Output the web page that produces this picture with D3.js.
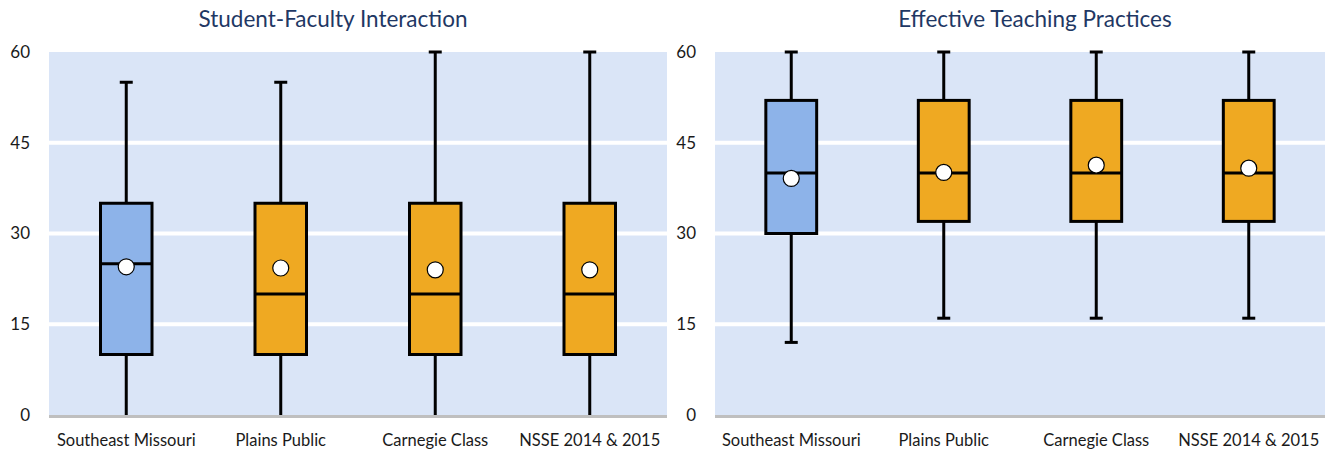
<!DOCTYPE html>
<html>
<head>
<meta charset="utf-8">
<script src="https://cdn.jsdelivr.net/npm/d3@7"></script>
<style>
  html, body { margin: 0; padding: 0; background: #ffffff; }
  svg { display: block; }
  text { font-family: Lato, "Open Sans", "DejaVu Sans", sans-serif; }
</style>
</head>
<body>
<svg id="chart" width="1325" height="451"></svg>
<script>
// Institutions compared in both panels
const categories = ["Southeast Missouri", "Plains Public", "Carnegie Class", "NSSE 2014 & 2015"];
const yTicks = [0, 15, 30, 45, 60];

// Student-Faculty Interaction: five-number summaries and means
const sfiMin    = [0, 0, 0, 0];
const sfiQ1     = [10, 10, 10, 10];
const sfiMedian = [25, 20, 20, 20];
const sfiQ3     = [35, 35, 35, 35];
const sfiMax    = [55, 55, 60, 60];
const sfiMean   = [24.5, 24.3, 24.0, 24.0];

// Effective Teaching Practices: five-number summaries and means
const etpMin    = [12, 16, 16, 16];
const etpQ1     = [30, 32, 32, 32];
const etpMedian = [40, 40, 40, 40];
const etpQ3     = [52, 52, 52, 52];
const etpMax    = [60, 60, 60, 60];
const etpMean   = [39.1, 40.1, 41.3, 40.8];

const boxFill = ["#8db3e9", "#efa922", "#efa922", "#efa922"];

const svg = d3.select("#chart");

function rows(min, q1, med, q3, max, mean) {
  return categories.map((c, i) => ({
    cat: c, min: min[i], q1: q1[i], med: med[i], q3: q3[i], max: max[i], mean: mean[i], fill: boxFill[i]
  }));
}

function drawPanel(opt) {
  const g = svg.append("g");
  const x = d3.scaleBand().domain(categories).range([opt.left, opt.right]).padding(0);
  const y = d3.scaleLinear().domain([0, 60]).range([415, 52]);

  // plot background
  g.append("rect")
    .attr("x", opt.left).attr("y", y(60))
    .attr("width", opt.right - opt.left).attr("height", y(0) - y(60))
    .attr("fill", "#dae5f7");

  // horizontal gridlines
  g.selectAll("line.grid").data(yTicks.filter(t => t > 0 && t < 60)).join("line")
    .attr("class", "grid")
    .attr("x1", opt.left).attr("x2", opt.right)
    .attr("y1", d => y(d)).attr("y2", d => y(d))
    .attr("stroke", "#ffffff").attr("stroke-width", 4);

  // y axis labels
  const yAxis = d3.axisLeft(y).tickValues(yTicks).tickSize(0).tickPadding(0);
  const ya = g.append("g").attr("transform", `translate(${opt.left - opt.labelGap},0)`).call(yAxis);
  ya.select(".domain").remove();
  ya.selectAll("text")
    .attr("font-family", "Lato, 'Open Sans', sans-serif")
    .attr("font-size", 17).attr("fill", "#1a1a1a");

  // x axis labels
  const xAxis = d3.axisBottom(x).tickSize(0).tickPadding(0);
  const xa = g.append("g").attr("transform", `translate(0,${y(0) + 19})`).call(xAxis);
  xa.select(".domain").remove();
  xa.selectAll("text")
    .attr("font-family", "Lato, 'Open Sans', sans-serif")
    .attr("font-size", 16.5).attr("fill", "#1a1a1a");

  // title
  g.append("text")
    .attr("x", opt.titleX).attr("y", 27)
    .attr("text-anchor", "middle")
    .attr("font-size", 22.5).attr("fill", "#1f3864")
    .text(opt.title);

  const data = opt.data;
  const cx = d => x(d.cat) + x.bandwidth() / 2;
  const bw = x.bandwidth() / 3;
  const capW = 13;
  const box = g.selectAll("g.box").data(data).join("g").attr("class", "box");

  // whiskers
  box.append("line")
    .attr("x1", cx).attr("x2", cx)
    .attr("y1", d => y(d.max)).attr("y2", d => y(d.q3))
    .attr("stroke", "#000").attr("stroke-width", 3);
  box.append("line")
    .attr("x1", cx).attr("x2", cx)
    .attr("y1", d => y(d.q1)).attr("y2", d => y(d.min))
    .attr("stroke", "#000").attr("stroke-width", 3);
  // whisker caps (the lower cap sits under the baseline when the minimum is 0)
  box.append("line")
    .attr("x1", d => cx(d) - capW / 2).attr("x2", d => cx(d) + capW / 2)
    .attr("y1", d => y(d.max)).attr("y2", d => y(d.max))
    .attr("stroke", "#000").attr("stroke-width", 3);
  box.filter(d => d.min > 0).append("line")
    .attr("x1", d => cx(d) - capW / 2).attr("x2", d => cx(d) + capW / 2)
    .attr("y1", d => y(d.min)).attr("y2", d => y(d.min))
    .attr("stroke", "#000").attr("stroke-width", 3);

  // interquartile box
  box.append("rect")
    .attr("x", d => cx(d) - bw / 2).attr("width", bw)
    .attr("y", d => y(d.q3)).attr("height", d => y(d.q1) - y(d.q3))
    .attr("fill", d => d.fill).attr("stroke", "#000").attr("stroke-width", 3);

  // median
  box.append("line")
    .attr("x1", d => cx(d) - bw / 2).attr("x2", d => cx(d) + bw / 2)
    .attr("y1", d => y(d.med)).attr("y2", d => y(d.med))
    .attr("stroke", "#000").attr("stroke-width", 3);

  // mean marker
  box.append("circle")
    .attr("cx", cx).attr("cy", d => y(d.mean)).attr("r", 8)
    .attr("fill", "#ffffff").attr("stroke", "#000").attr("stroke-width", 1.2);

  // baseline, drawn over the whisker ends
  g.append("line")
    .attr("x1", opt.left).attr("x2", opt.right)
    .attr("y1", y(0) + 1.5).attr("y2", y(0) + 1.5)
    .attr("stroke", "#bfbfbf").attr("stroke-width", 3);
}

drawPanel({
  left: 49, right: 667, labelGap: 19, titleX: 333,
  title: "Student-Faculty Interaction",
  data: rows(sfiMin, sfiQ1, sfiMedian, sfiQ3, sfiMax, sfiMean)
});

drawPanel({
  left: 715, right: 1325, labelGap: 19, titleX: 1035,
  title: "Effective Teaching Practices",
  data: rows(etpMin, etpQ1, etpMedian, etpQ3, etpMax, etpMean)
});
</script>
</body>
</html>
